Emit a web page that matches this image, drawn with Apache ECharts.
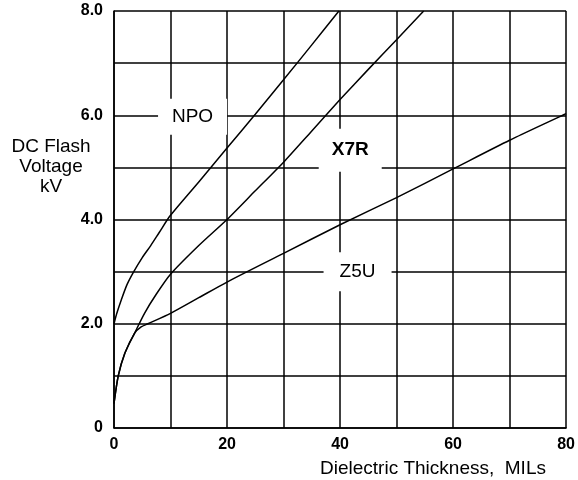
<!DOCTYPE html>
<html>
<head>
<meta charset="utf-8">
<script src="https://cdn.jsdelivr.net/npm/echarts@6/dist/echarts.min.js"></script>
<style>
  html, body { margin: 0; padding: 0; background: #fff; }
  #chart { width: 578px; height: 480px; }
</style>
</head>
<body>
<div id="chart"></div>
<script>
// curves: [thickness MILs, flash voltage kV]
var npoData = [[0, 2.0], [0.5, 2.2], [1.3, 2.46], [2.3, 2.75], [3.5, 3.0], [5, 3.27], [6.5, 3.5], [8, 3.75],
  [10, 4.08], [15, 4.72], [20, 5.37], [25, 6.02], [30, 6.68], [35, 7.35], [39.8, 8.0]];
var x7rData = [[0, 0.47], [0.75, 1.0], [1.9, 1.43], [3.65, 1.82], [5.4, 2.2], [7.5, 2.57], [10, 2.95],
  [15, 3.5], [20, 4.0], [25, 4.55], [30, 5.1], [35, 5.7], [40, 6.3], [45, 6.88], [50, 7.45], [54.8, 8.0]];
var z5uData = [[0, 0.47], [0.75, 1.0], [1.9, 1.43], [3.65, 1.82], [4.8, 1.94], [6, 2.0], [10, 2.2],
  [15, 2.5], [20, 2.8], [30, 3.35], [40, 3.9], [50, 4.42], [60, 4.97], [70, 5.52], [80, 6.03]];

// curve names and where they sit on the grid
var curveNames = ['NPO', 'X7R', 'Z5U'];
var labelAt = [[13.9, 5.97], [41.8, 5.33], [43.1, 3.0]];

var xTicks = [0, 20, 40, 60, 80];
var yTicks = { 0: '0', 2: '2.0', 4: '4.0', 6: '6.0', 8: '8.0' };

var chart = echarts.init(document.getElementById('chart'));

var font = '"Liberation Sans", Arial, sans-serif';

function curve(name, data, labelPos, box, bold) {
  return {
    name: name,
    type: 'line',
    data: data,
    smooth: 0.25,
    showSymbol: false,
    silent: true,
    lineStyle: { color: '#000', width: 1.5 },
    markPoint: {
      silent: true,
      symbol: 'rect',
      symbolSize: box,
      itemStyle: { color: '#fff' },
      label: {
        show: true,
        formatter: name,
        color: '#000',
        fontFamily: font,
        fontSize: 19,
        fontWeight: bold ? 'bold' : 'normal'
      },
      data: [{ coord: labelPos }]
    }
  };
}

var option = {
  backgroundColor: '#fff',
  animation: false,
  grid: { left: 114, right: 4, top: 11, bottom: 52 },
  xAxis: {
    type: 'value',
    min: 0,
    max: 80,
    interval: 10,
    axisLine: { show: true, lineStyle: { color: '#000', width: 1.5 } },
    axisTick: { show: false },
    axisLabel: {
      color: '#000',
      fontFamily: font,
      fontSize: 16,
      fontWeight: 'bold',
      margin: 9,
      formatter: function (v) { return xTicks.indexOf(v) >= 0 ? String(v) : ''; }
    },
    splitLine: { show: true, lineStyle: { color: '#000', width: 1.5 } }
  },
  yAxis: {
    type: 'value',
    min: 0,
    max: 8,
    interval: 1,
    axisLine: { show: true, lineStyle: { color: '#000', width: 1.5 } },
    axisTick: { show: false },
    axisLabel: {
      color: '#000',
      fontFamily: font,
      fontSize: 16,
      fontWeight: 'bold',
      margin: 11,
      formatter: function (v) { return yTicks[v] !== undefined ? yTicks[v] : ''; }
    },
    splitLine: { show: true, lineStyle: { color: '#000', width: 1.5 } }
  },
  graphic: [
    {
      type: 'text',
      x: 51,
      y: 167,
      style: {
        text: 'DC Flash\nVoltage\nkV',
        fill: '#000',
        font: '19px ' + font,
        lineHeight: 20,
        align: 'center',
        verticalAlign: 'middle'
      }
    },
    {
      type: 'text',
      x: 433,
      y: 469,
      style: {
        text: 'Dielectric Thickness,  MILs',
        fill: '#000',
        font: '19px ' + font,
        align: 'center',
        verticalAlign: 'middle'
      }
    }
  ],
  series: [
    curve(curveNames[0], npoData, labelAt[0], [69, 36], false),
    curve(curveNames[1], x7rData, labelAt[1], [63, 43], true),
    curve(curveNames[2], z5uData, labelAt[2], [68, 39], false)
  ]
};

chart.setOption(option);
</script>
</body>
</html>
